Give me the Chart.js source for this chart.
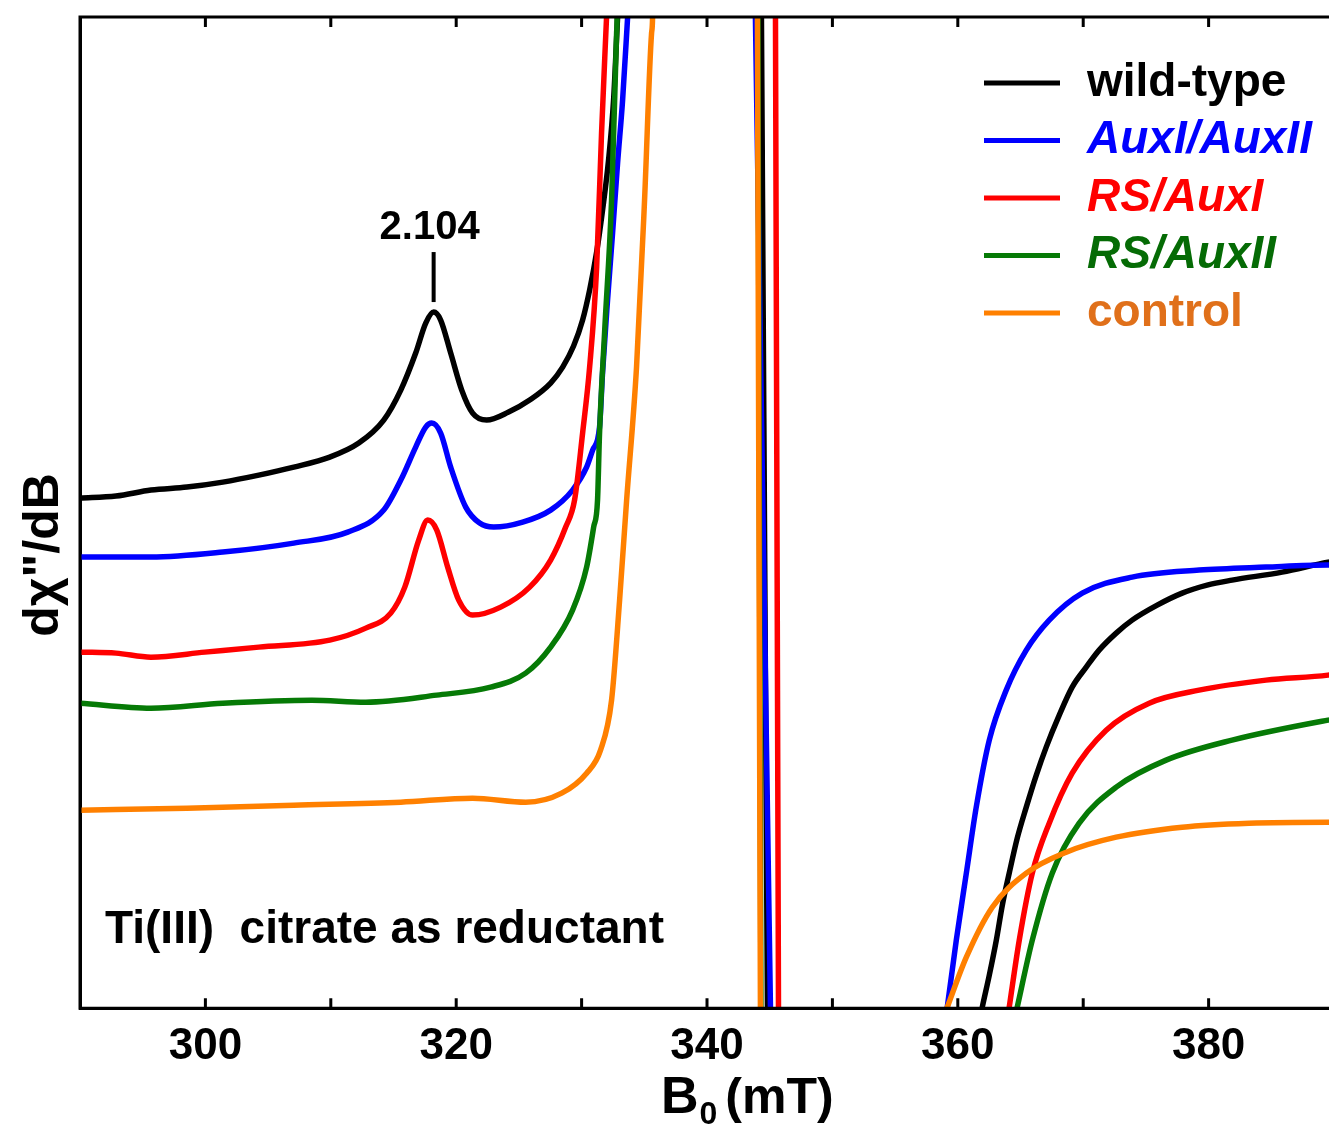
<!DOCTYPE html>
<html>
<head>
<meta charset="utf-8">
<title>EPR spectra - Ti(III) citrate as reductant</title>
<script src="https://cdn.jsdelivr.net/npm/chart.js@4.4.1/dist/chart.umd.min.js"></script>
<style>
  html, body { margin: 0; padding: 0; background: #fff; }
  #wrap { width: 1329px; height: 1125px; }
</style>
</head>
<body>
<div id="wrap"><canvas id="eprChart" width="1329" height="1125"></canvas></div>
<script>
// Field (mT) and derivative signal (arb. units, 0 = bottom of frame).
// Values above ~99 or below 0 are off-scale parts of the big central line.
const wildTypeB = [290.0, 292.87, 295.66, 298.53, 301.39, 304.26, 307.05, 309.92, 312.23, 314.22, 315.58, 316.77, 317.57, 318.21, 318.76, 319.56, 320.44, 321.31, 322.43, 324.18, 325.86, 327.53, 328.49, 329.36, 330.08, 330.64, 331.20, 331.67, 332.15, 332.55, 332.87, 333.10, 344.31, 344.34, 344.82, 344.85, 361.13, 361.95, 362.51, 363.07, 363.55, 364.10, 364.74, 365.46, 366.26, 367.05, 368.09, 369.12, 370.24, 371.27, 372.63, 373.90, 375.90, 377.89, 379.88, 381.87, 385.86, 389.52, 390];
const wildTypeY = [51.0, 51.2, 51.8, 52.1, 52.6, 53.3, 54.1, 55.1, 56.5, 58.8, 61.8, 65.5, 68.5, 69.6, 68.8, 65.5, 61.8, 59.5, 58.8, 59.6, 60.8, 62.5, 64.1, 66.2, 68.8, 71.8, 75.6, 79.8, 84.8, 90.8, 99.1, 105, 105, 99.1, 0, -5, -5, 0.1, 3.3, 6.8, 10.3, 13.5, 17.0, 20.1, 23.3, 26.1, 29.3, 32.1, 34.1, 35.8, 37.5, 38.8, 40.3, 41.5, 42.3, 42.8, 43.6, 44.6, 44.7];

const auxB = [290.0, 295.66, 301.39, 307.05, 311.35, 314.22, 315.58, 316.77, 317.57, 318.05, 318.76, 319.56, 320.76, 321.87, 322.99, 325.30, 327.53, 329.28, 330.40, 330.88, 331.43, 331.67, 332.07, 332.47, 332.87, 333.27, 333.67, 333.95, 343.79, 343.86, 345.06, 345.12, 358.62, 359.16, 359.88, 360.68, 361.47, 362.51, 363.86, 365.46, 367.29, 369.92, 373.90, 379.24, 384.58, 389.52, 390];
const auxY = [45.1, 45.1, 45.6, 46.5, 47.6, 49.8, 52.8, 56.1, 58.1, 58.5, 57.5, 54.1, 50.1, 48.5, 48.1, 48.6, 49.8, 51.8, 54.1, 55.8, 58.1, 63.5, 70.8, 77.5, 84.5, 90.8, 99.1, 105, 105, 99.1, 0, -5, -5, 0.1, 6.8, 13.5, 20.1, 26.8, 31.8, 35.8, 38.8, 41.5, 43.1, 43.8, 44.1, 44.3, 44.3];

const rsAuxIB = [290.0, 292.87, 295.66, 299.96, 304.26, 309.92, 312.79, 314.78, 315.90, 317.01, 317.73, 318.45, 319.32, 320.20, 321.31, 323.55, 325.86, 327.53, 328.73, 329.44, 330.08, 330.64, 331.20, 331.59, 331.99, 332.19, 345.45, 345.46, 345.70, 345.71, 363.50, 364.10, 364.90, 365.94, 367.29, 369.12, 371.83, 375.26, 379.24, 384.58, 389.52, 390];
const rsAuxIY = [35.6, 35.5, 35.1, 35.6, 36.1, 36.8, 38.0, 39.5, 42.1, 46.8, 48.8, 47.8, 44.1, 40.8, 39.3, 40.1, 42.1, 44.8, 48.1, 50.8, 57.5, 64.1, 74.1, 87.5, 99.1, 105, 105, 99.1, 0, -5, -5, 0.1, 6.8, 13.5, 18.5, 23.5, 27.8, 30.5, 31.8, 32.8, 33.3, 33.4];

const rsAuxIIB = [290.0, 295.66, 301.39, 308.49, 312.79, 318.45, 322.75, 325.54, 327.53, 329.28, 330.40, 330.96, 331.27, 331.43, 331.83, 332.39, 332.79, 332.83, 332.86, 344.05, 344.06, 344.30, 344.31, 363.84, 364.74, 365.94, 367.53, 369.68, 372.63, 376.61, 381.87, 389.52, 390];
const rsAuxIIY = [30.5, 30.0, 30.5, 30.8, 30.6, 31.3, 32.1, 33.5, 36.1, 39.8, 44.1, 48.1, 50.8, 57.5, 67.5, 80.8, 97.5, 99.1, 105, 105, 99.1, 0, -5, -5, 0.1, 6.8, 13.5, 18.5, 22.1, 24.8, 26.8, 28.8, 28.9];

const controlB = [290.0, 298.53, 307.05, 315.58, 321.31, 325.54, 328.41, 330.40, 331.51, 332.39, 333.03, 333.59, 334.38, 335.02, 335.58, 335.66, 335.70, 344.00, 344.02, 344.26, 344.28, 357.64, 359.16, 360.68, 362.75, 365.46, 368.65, 372.63, 377.89, 383.23, 389.52, 390];
const controlY = [19.8, 20.0, 20.3, 20.6, 21.0, 20.6, 21.5, 23.5, 25.8, 30.8, 40.8, 50.8, 64.1, 80.8, 97.5, 99.1, 105, 105, 99.1, 0, -5, -5, 0.1, 5.1, 10.1, 13.5, 15.6, 17.1, 18.1, 18.5, 18.6, 18.6];

const seriesNames = ["wild-type", "AuxI/AuxII", "RS/AuxI", "RS/AuxII", "control"];
const xTickValues = [300, 310, 320, 330, 340, 350, 360, 370, 380];
const xTickLabels = [300, 320, 340, 360, 380];
const yTitle = 'd\u03c7"/dB';
const gLabel = "2.104";
const gField = 318.2;
const noteText = "Ti(III)  citrate as reductant";

const fields = [wildTypeB, auxB, rsAuxIB, rsAuxIIB, controlB];
const signals = [wildTypeY, auxY, rsAuxIY, rsAuxIIY, controlY];

// styles
const lineColors = ["#000000", "#0000ff", "#ff0000", "#067a06", "#ff8000"];
const textColors = ["#000000", "#0000ff", "#ff0000", "#056b05", "#e0701a"];
const italicLabel = [false, true, true, true, false];
const FONT = "'Liberation Sans', Arial, sans-serif";

Chart.defaults.font.family = FONT;
Chart.defaults.color = "#000";

// frame, inward ticks, annotations, legend and axis titles
const decorations = {
  id: "decorations",
  afterDraw(chart) {
    const { ctx, chartArea: a, scales: { x, y } } = chart;
    ctx.save();
    ctx.strokeStyle = "#000";
    ctx.lineWidth = 3;
    ctx.lineCap = "butt";

    ctx.beginPath();
    ctx.moveTo(a.left - 1.5, a.top);
    ctx.lineTo(a.right, a.top);
    ctx.moveTo(a.left, a.top - 1.5);
    ctx.lineTo(a.left, a.bottom + 1.5);
    ctx.moveTo(a.left - 1.5, a.bottom);
    ctx.lineTo(a.right, a.bottom);
    ctx.stroke();

    xTickValues.forEach((v) => {
      const px = x.getPixelForValue(v);
      ctx.beginPath();
      ctx.moveTo(px, a.bottom);
      ctx.lineTo(px, a.bottom - 10);
      ctx.moveTo(px, a.top);
      ctx.lineTo(px, a.top + 10);
      ctx.stroke();
    });

    // g-value marker
    const gx = x.getPixelForValue(gField);
    ctx.lineWidth = 4;
    ctx.beginPath();
    ctx.moveTo(gx, y.getPixelForValue(75.6));
    ctx.lineTo(gx, y.getPixelForValue(70.6));
    ctx.stroke();
    ctx.fillStyle = "#000";
    ctx.font = "bold 40px " + FONT;
    ctx.textAlign = "center";
    ctx.textBaseline = "middle";
    ctx.fillText(gLabel, gx - 4, y.getPixelForValue(78.0));

    // note
    ctx.font = "bold 46px " + FONT;
    ctx.textAlign = "left";
    ctx.fillText(noteText, a.left + 25, y.getPixelForValue(7.8));

    // legend
    seriesNames.forEach((name, i) => {
      const ly = 83 + i * 57.5;
      ctx.strokeStyle = lineColors[i];
      ctx.lineWidth = 5;
      ctx.beginPath();
      ctx.moveTo(984, ly);
      ctx.lineTo(1060, ly);
      ctx.stroke();
      ctx.fillStyle = textColors[i];
      ctx.font = (italicLabel[i] ? "italic " : "") + "bold 46px " + FONT;
      ctx.fillText(name, 1087, ly);
    });

    // y-axis title
    ctx.fillStyle = "#000";
    ctx.save();
    ctx.translate(44, 555);
    ctx.rotate(-Math.PI / 2);
    ctx.textAlign = "center";
    ctx.textBaseline = "middle";
    ctx.font = "bold 50px " + FONT;
    ctx.fillText(yTitle, 0, 0);
    ctx.restore();

    // x-axis title with subscript
    ctx.textAlign = "left";
    ctx.textBaseline = "alphabetic";
    let tx = 661;
    ctx.font = "bold 52px " + FONT;
    ctx.fillText("B", tx, 1113);
    tx += ctx.measureText("B").width + 1;
    ctx.font = "bold 32px " + FONT;
    ctx.fillText("0", tx, 1124);
    tx += ctx.measureText("0").width + 8;
    ctx.font = "bold 50px " + FONT;
    ctx.fillText("(mT)", tx, 1113);

    ctx.restore();
  },
};

const datasets = seriesNames.map((name, i) => ({
  label: name,
  data: fields[i].map((b, k) => ({ x: b, y: signals[i][k] })),
  borderColor: lineColors[i],
  backgroundColor: lineColors[i],
  borderWidth: 5.5,
  pointRadius: 0,
  fill: false,
  cubicInterpolationMode: "monotone",
  order: seriesNames.length - i, // control drawn on top
}));

new Chart(document.getElementById("eprChart"), {
  type: "line",
  data: { datasets: datasets },
  options: {
    responsive: false,
    animation: false,
    devicePixelRatio: 1,
    layout: { autoPadding: false, padding: { left: 80, right: 0, top: 17, bottom: 40 } },
    elements: { line: { capBezierPoints: false } },
    plugins: {
      legend: { display: false },
      tooltip: { enabled: false },
    },
    scales: {
      x: {
        type: "linear",
        min: 290,
        max: 389.6,
        afterBuildTicks: (scale) => {
          scale.ticks = xTickValues.map((v) => ({ value: v }));
        },
        grid: { display: false, drawTicks: false },
        border: { display: true, color: "#000", width: 3 },
        ticks: {
          autoSkip: false,
          maxRotation: 0,
          padding: 12,
          color: "#000",
          font: { size: 44, weight: "bold" },
          callback: (v) => (xTickLabels.includes(v) ? String(v) : ""),
        },
      },
      y: {
        min: 0,
        max: 99.1,
        grid: { display: false, drawTicks: false },
        border: { display: true, color: "#000", width: 3 },
        ticks: { display: false },
      },
    },
  },
  plugins: [decorations],
});
</script>
</body>
</html>
